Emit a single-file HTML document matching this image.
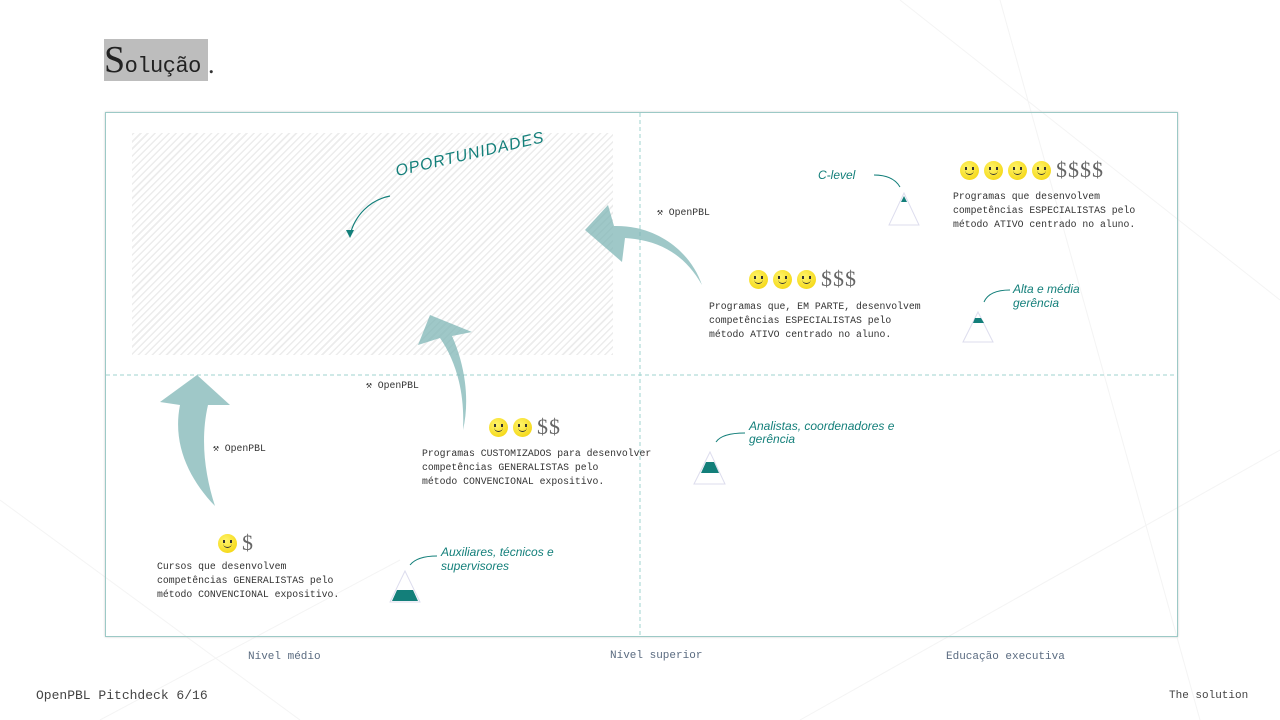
<!DOCTYPE html>
<html><head><meta charset="utf-8">
<style>
body{margin:0;width:1280px;height:720px;background:#fff;position:relative;overflow:hidden;font-family:"Liberation Serif","Noto Serif CJK SC",serif;color:#333}
.a{position:absolute}
.t{font-family:"Liberation Mono",monospace;font-size:9.8px;line-height:14px;color:#333}
.h{font-family:"Liberation Sans",sans-serif;font-style:italic;color:#137f7a;font-size:12px}
.ax{font-family:"Liberation Mono",monospace;font-size:11px;color:#5a6b80}
.smile{display:inline-block;width:19px;height:19px;border-radius:50%;background:radial-gradient(circle at 40% 35%,#fff46a,#f2d000);margin-right:5px;vertical-align:middle;position:relative}
.smile:before{content:"";position:absolute;left:5px;top:6px;width:2px;height:3px;background:#333;box-shadow:7px 0 #333}
.smile:after{content:"";position:absolute;left:5px;top:8px;width:9px;height:5px;border-bottom:1.5px solid #333;border-radius:0 0 6px 6px}
.d{font-size:22px;color:#666;vertical-align:middle;letter-spacing:1px;font-weight:300}
</style></head><body>
<svg class="a" style="left:0;top:0" width="1280" height="720">
<g stroke="#f4f4f4" stroke-width="1" fill="none">
<path d="M900 0 L1280 300 M1000 0 L1200 720 M800 720 L1280 450 M0 500 L300 720 M100 720 L400 560"/>
</g></svg>
<div class="a" style="left:104px;top:39px;width:104px;height:42px;background:#bdbdbd;font-family:'Liberation Mono',monospace;font-size:22px;line-height:50px;color:#222;white-space:nowrap;letter-spacing:-0.5px"><span style="font-family:'Liberation Serif',serif;font-size:38px;line-height:42px">S</span>olução</div>
<div class="a" style="left:208px;top:50px;font-size:26px;line-height:30px">.</div>

<div class="a" style="left:105px;top:112px;width:1071px;height:523px;border:1px solid #9cc9c6;box-shadow:0 0 2px #ccc"></div>
<div class="a" style="left:132px;top:133px;width:481px;height:222px;background:repeating-linear-gradient(-45deg,#ececec 0 1.5px,#fff 1.5px 5px)"></div>
<svg class="a" style="left:0;top:0" width="1280" height="720">
<line x1="106" y1="375" x2="1176" y2="375" stroke="#9fd3cf" stroke-dasharray="4 3"/>
<line x1="640" y1="113" x2="640" y2="635" stroke="#9fd3cf" stroke-dasharray="4 3"/>
<g fill="#7fb5b5" opacity="0.75">
<path d="M215 506 C190 480 172 445 180 405 L160 402 L197 375 L230 405 L208 405 C200 440 205 475 215 506Z"/>
<path d="M463 430 C465 390 455 360 440 338 L418 345 L430 315 L472 332 L452 336 C465 365 470 400 463 430Z"/>
<path d="M702 285 C685 255 660 240 625 238 L622 262 L585 230 L608 205 L614 226 C655 225 690 250 702 285Z"/>
</g>
<path d="M390 196 C370 200 355 215 350 235" stroke="#137f7a" fill="none" stroke-width="1.2"/>
<path d="M346 230 L350 238 L354 230Z" fill="#137f7a"/>
<path d="M874 175 C888 175 896 180 900 187" stroke="#137f7a" fill="none"/>
<path d="M1010 290 C995 290 987 295 984 302" stroke="#137f7a" fill="none"/>
<path d="M745 433 C730 433 720 436 716 442" stroke="#137f7a" fill="none"/>
<path d="M437 556 C422 556 414 560 410 565" stroke="#137f7a" fill="none"/>
<g>
<path d="M904 193 L889 225 L919 225Z" fill="#fff" stroke="#dde"/><path d="M904 196 L901 202 L907 202Z" fill="#137f7a"/>
<path d="M978 312 L963 342 L993 342Z" fill="#fff" stroke="#dde"/><path d="M975 318 L973 323 L984 323 L981 318Z" fill="#137f7a"/>
<path d="M710 452 L694 484 L725 484Z" fill="#fff" stroke="#dde"/><path d="M706 462 L701 473 L719 473 L714 462Z" fill="#137f7a"/>
<path d="M405 571 L390 602 L420 602Z" fill="#fff" stroke="#dde"/><path d="M397 590 L392 601 L418 601 L413 590Z" fill="#137f7a"/>
</g>
</svg>
<div class="a h" style="left:398px;top:163px;font-size:16px;transform:rotate(-13deg);transform-origin:left bottom;letter-spacing:1px">OPORTUNIDADES</div>

<div class="a t" style="left:657px;top:206px">⚒ OpenPBL</div>
<div class="a t" style="left:366px;top:379px">⚒ OpenPBL</div>
<div class="a t" style="left:213px;top:442px">⚒ OpenPBL</div>

<div class="a h" style="left:818px;top:168px">C-level</div>
<div class="a h" style="left:1013px;top:282px;line-height:14px">Alta e média<br>gerência</div>
<div class="a h" style="left:749px;top:420px;line-height:13px">Analistas, coordenadores e<br>gerência</div>
<div class="a h" style="left:441px;top:545px;line-height:14px">Auxiliares, técnicos e<br>supervisores</div>

<div class="a" style="left:960px;top:157px"><span class="smile"></span><span class="smile"></span><span class="smile"></span><span class="smile"></span><span class="d">$$$$</span></div>
<div class="a t" style="left:953px;top:190px">Programas que desenvolvem<br>competências ESPECIALISTAS pelo<br>método ATIVO centrado no aluno.</div>
<div class="a" style="left:749px;top:266px"><span class="smile"></span><span class="smile"></span><span class="smile"></span><span class="d">$$$</span></div>
<div class="a t" style="left:709px;top:300px">Programas que, EM PARTE, desenvolvem<br>competências ESPECIALISTAS pelo<br>método ATIVO centrado no aluno.</div>
<div class="a" style="left:489px;top:414px"><span class="smile"></span><span class="smile"></span><span class="d">$$</span></div>
<div class="a t" style="left:422px;top:447px">Programas CUSTOMIZADOS para desenvolver<br>competências GENERALISTAS pelo<br>método CONVENCIONAL expositivo.</div>
<div class="a" style="left:218px;top:530px"><span class="smile"></span><span class="d">$</span></div>
<div class="a t" style="left:157px;top:560px">Cursos que desenvolvem<br>competências GENERALISTAS pelo<br>método CONVENCIONAL expositivo.</div>

<div class="a ax" style="left:248px;top:651px">Nível médio</div>
<div class="a ax" style="left:610px;top:650px">Nível superior</div>
<div class="a ax" style="left:946px;top:651px">Educação executiva</div>
<div class="a" style="left:36px;top:688px;font-family:'Liberation Mono',monospace;font-size:13px;color:#444">OpenPBL Pitchdeck 6/16</div>
<div class="a" style="left:1169px;top:690px;font-family:'Liberation Mono',monospace;font-size:11px;color:#444">The solution</div>
</body></html>
